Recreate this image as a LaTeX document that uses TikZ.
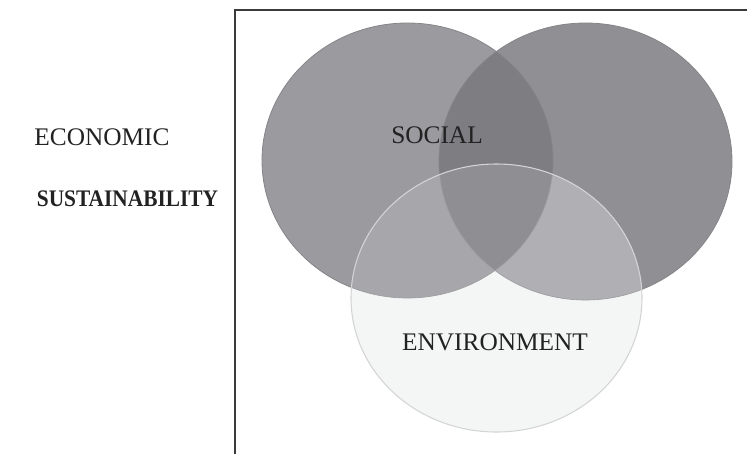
\documentclass[tikz,border=0pt]{standalone}
\usepackage{fontspec}
\setmainfont{Liberation Serif}
\definecolor{ecoL}{HTML}{9B9B9F}
\definecolor{ecoR}{HTML}{909094}
\definecolor{ecoLR}{HTML}{7D7D82}
\definecolor{envOnly}{HTML}{F4F5F5}
\definecolor{envL}{HTML}{A7A7AB}
\definecolor{envR}{HTML}{B0B0B4}
\definecolor{envLR}{HTML}{8F8F93}
\definecolor{ringDark}{HTML}{858589}
\definecolor{ringLight}{HTML}{D4D4D6}
\definecolor{frameGray}{HTML}{3A3A3A}
\definecolor{inkText}{HTML}{222222}
\begin{document}
\begin{tikzpicture}[x=0.75pt,y=-0.75pt,
  label/.style={inner sep=0pt,text=inkText,font=\fontsize{19}{21}\selectfont},
  title/.style={inner sep=0pt,text=inkText,font=\fontsize{17.8}{20}\selectfont\bfseries},
  frameline/.style={draw=frameGray,line width=1.5pt}]
\useasboundingbox (0,0) rectangle (747,454);

% the two upper sets
\fill[ecoL] (407.5,160.5) ellipse [x radius=145.5, y radius=137.5];
\fill[ecoR] (585.5,161.5) ellipse [x radius=146.5, y radius=138.5];
\begin{scope}
  \clip (407.5,160.5) ellipse [x radius=145.5, y radius=137.5];
  \fill[ecoLR] (585.5,161.5) ellipse [x radius=146.5, y radius=138.5];
\end{scope}
\draw[ringDark,line width=0.6pt] (407.5,160.5) ellipse [x radius=145.5, y radius=137.5];
\draw[ringDark,line width=0.6pt] (585.5,161.5) ellipse [x radius=146.5, y radius=138.5];

% the lower set, lying over the other two
\fill[envOnly] (496.5,298) ellipse [x radius=145.5, y radius=134];
\begin{scope}
  \clip (496.5,298) ellipse [x radius=145.5, y radius=134];
  \fill[envL] (407.5,160.5) ellipse [x radius=145.5, y radius=137.5];
  \fill[envR] (585.5,161.5) ellipse [x radius=146.5, y radius=138.5];
  \begin{scope}
    \clip (407.5,160.5) ellipse [x radius=145.5, y radius=137.5];
    \fill[envLR] (585.5,161.5) ellipse [x radius=146.5, y radius=138.5];
  \end{scope}
  \draw[ringDark!80!white,line width=0.5pt] (407.5,160.5) ellipse [x radius=145.5, y radius=137.5];
  \draw[ringDark!80!white,line width=0.5pt] (585.5,161.5) ellipse [x radius=146.5, y radius=138.5];
\end{scope}
\draw[ringLight,line width=0.8pt] (496.5,298) ellipse [x radius=145.5, y radius=134];

% frame
\coordinate (fb) at (235,454);
\coordinate (fc) at (235,10);
\coordinate (fe) at (747,10);
\draw[frameline] (fb) -- (fc) -- (fe);

% labels
\node[label] (econ) at (102,137) {ECONOMIC};
\node[title] (sust) at (127.5,198.5) {\scalebox{0.9}[1]{SUSTAINABILITY}};
\node[label] (soc) at (437,135) {SOCIAL};
\node[label] (env) at (495,342.5) {ENVIRONMENT};
\end{tikzpicture}
\end{document}
